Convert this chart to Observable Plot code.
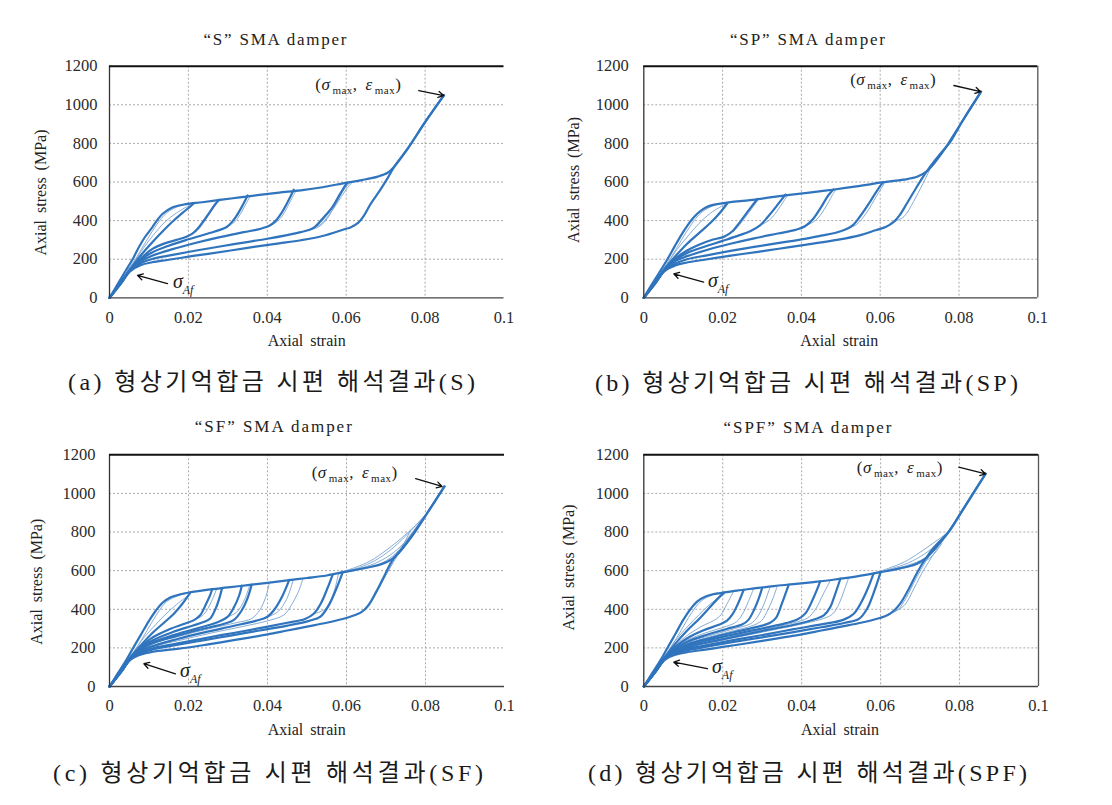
<!DOCTYPE html>
<html><head><meta charset="utf-8">
<script src="https://cdn.jsdelivr.net/npm/d3@7"></script>
<script src="https://cdn.jsdelivr.net/npm/@observablehq/plot@0.6"></script>
<style>
body{margin:0;background:#fff;}
#wrap{position:relative;width:1112px;height:805px;overflow:hidden;background:#fff;}
#wrap svg{position:absolute;}
</style></head><body><div id="wrap"></div>
<script>
// ---------- ticks ----------
const strainTicks = [0, 0.02, 0.04, 0.06, 0.08, 0.1];
const stressTicks = [0, 200, 400, 600, 800, 1000, 1200];
const titles = ["“S” SMA damper", "“SP” SMA damper", "“SF” SMA damper", "“SPF” SMA damper"];
const captions = ["(a) 형상기억합금 시편 해석결과(S)", "(b) 형상기억합금 시편 해석결과(SP)", "(c) 형상기억합금 시편 해석결과(SF)", "(d) 형상기억합금 시편 해석결과(SPF)"];
const xLabel = "Axial strain";
const yLabel = "Axial stress (MPa)";

// ---------- (a) S ----------
const envS = [[0,0],[0.002,68],[0.0041,140],[0.006,205],[0.0074,261],[0.009,315],[0.0108,364],[0.0122,405],[0.0134,434],[0.0159,468],[0.0193,485],[0.0235,495],[0.028,507],[0.033,520],[0.038,533],[0.043,545],[0.0485,557],[0.054,573],[0.0595,594],[0.064,610],[0.068,628],[0.0705,648],[0.0722,680],[0.0755,770],[0.08,910],[0.0848,1050]];
const loopsS = [
 [[0,0],[0.003,85],[0.0052,148],[0.008,222],[0.0108,287],[0.0135,345],[0.016,395],[0.0185,440],[0.0203,470],[0.0214,490]],
 [[0,0],[0.003,82],[0.0052,145],[0.008,205],[0.0108,252],[0.014,282],[0.017,300],[0.0195,316],[0.021,332],[0.0225,362],[0.024,402],[0.0255,447],[0.0268,485],[0.0278,508]],
 [[0,0],[0.003,80],[0.0052,143],[0.008,198],[0.0108,235],[0.015,270],[0.02,303],[0.025,333],[0.028,352],[0.0298,368],[0.031,392],[0.0322,425],[0.0335,470],[0.0344,505],[0.035,530]],
 [[0,0],[0.003,80],[0.0052,142],[0.008,190],[0.0108,218],[0.016,252],[0.022,285],[0.028,314],[0.034,340],[0.038,356],[0.0405,373],[0.042,396],[0.0435,436],[0.045,490],[0.046,530],[0.0467,560]],
 [[0,0],[0.003,78],[0.0052,140],[0.008,180],[0.0108,201],[0.016,222],[0.022,245],[0.028,266],[0.034,286],[0.04,306],[0.045,325],[0.0485,340],[0.0505,351],[0.052,366],[0.054,410],[0.0565,470],[0.0585,540],[0.0597,580],[0.0603,597]],
 [[0,0],[0.003,76],[0.0052,137],[0.008,170],[0.0108,184],[0.015,197],[0.02,213],[0.025,228],[0.0307,245],[0.037,265],[0.043,282],[0.0485,298],[0.054,320],[0.0595,355],[0.0612,366],[0.063,388],[0.0645,426],[0.0662,487],[0.0685,555],[0.0705,620],[0.0722,680],[0.0755,770],[0.08,910],[0.0848,1050]]
];
const thinS = [
 [[0.0052,148],[0.008,240],[0.011,322],[0.014,392],[0.017,440],[0.0205,482]],
 [[0.0045,140],[0.007,215],[0.0095,300],[0.012,380],[0.0145,440],[0.018,478],[0.021,490]],
 [[0.0195,318],[0.0222,348],[0.0242,400],[0.026,455],[0.0272,490],[0.0283,510]],
 [[0.0298,368],[0.0318,395],[0.0335,445],[0.0348,495],[0.0358,530]],
 [[0.0405,373],[0.0428,400],[0.0447,455],[0.0462,515],[0.0475,560]],
 [[0.0495,346],[0.0525,372],[0.0552,430],[0.058,515],[0.0598,570],[0.061,598]],
 [[0.0505,351],[0.0535,380],[0.0562,445],[0.0588,525],[0.0605,575],[0.0616,600]],
 [[0.0505,351],[0.0528,365],[0.0548,400],[0.0572,480],[0.0592,555],[0.0604,598]]
];

// ---------- (b) SP ----------
const envSP = [[0,0],[0.002,68],[0.0042,140],[0.006,200],[0.0078,265],[0.0095,325],[0.0112,378],[0.0128,420],[0.0145,452],[0.0165,475],[0.019,487],[0.022,496],[0.027,506],[0.032,520],[0.037,533],[0.042,545],[0.048,560],[0.054,577],[0.0605,598],[0.066,612],[0.0695,628],[0.0718,655],[0.074,705],[0.077,790],[0.081,920],[0.0856,1068]];
const loopsSP = [
 [[0,0],[0.003,85],[0.0052,148],[0.008,215],[0.011,280],[0.014,335],[0.017,390],[0.0195,445],[0.0212,490]],
 [[0,0],[0.003,82],[0.0052,145],[0.008,203],[0.011,245],[0.014,275],[0.017,298],[0.0205,318],[0.0225,345],[0.0245,395],[0.0265,450],[0.028,490],[0.0288,512]],
 [[0,0],[0.003,80],[0.0052,143],[0.008,196],[0.011,232],[0.015,262],[0.02,295],[0.024,322],[0.027,345],[0.0295,375],[0.0315,420],[0.0335,470],[0.035,510],[0.036,535]],
 [[0,0],[0.003,80],[0.0052,142],[0.008,190],[0.011,216],[0.016,248],[0.022,280],[0.028,308],[0.034,333],[0.0385,352],[0.041,372],[0.043,410],[0.045,470],[0.0468,530],[0.0482,562]],
 [[0,0],[0.003,78],[0.0052,140],[0.008,178],[0.011,200],[0.016,220],[0.022,243],[0.028,264],[0.034,283],[0.04,303],[0.045,322],[0.0485,336],[0.051,352],[0.053,375],[0.055,425],[0.0575,500],[0.0595,565],[0.0607,598]],
 [[0,0],[0.003,76],[0.0052,137],[0.008,168],[0.011,183],[0.015,196],[0.02,212],[0.025,227],[0.031,244],[0.037,263],[0.043,281],[0.049,300],[0.055,325],[0.0588,350],[0.0615,368],[0.0635,395],[0.065,430],[0.0668,490],[0.069,565],[0.071,630],[0.0725,675],[0.075,740],[0.078,815],[0.081,920],[0.0856,1068]]
];
const thinSP = [
 [[0.0052,148],[0.008,238],[0.011,315],[0.014,385],[0.017,440],[0.0205,483]],
 [[0.0045,140],[0.007,212],[0.0095,298],[0.012,378],[0.0145,440],[0.018,480],[0.021,492]],
 [[0.0205,320],[0.023,350],[0.0255,410],[0.0275,465],[0.0292,512]],
 [[0.0295,375],[0.032,405],[0.0342,460],[0.0358,510],[0.0367,535]],
 [[0.041,372],[0.0438,405],[0.046,465],[0.0478,530],[0.0488,562]],
 [[0.051,352],[0.054,380],[0.0565,440],[0.059,525],[0.0612,598]],
 [[0.0635,395],[0.066,420],[0.0685,500],[0.0708,590],[0.0725,660]]
];

// ---------- (c) SF ----------
const envSF = [[0,0],[0.002,65],[0.0042,135],[0.006,200],[0.008,270],[0.010,340],[0.0118,395],[0.0135,435],[0.0155,462],[0.018,478],[0.021,490],[0.025,502],[0.03,513],[0.035,525],[0.04,537],[0.045,550],[0.05,562],[0.055,575],[0.06,595],[0.065,615],[0.069,635],[0.0715,660],[0.074,710],[0.077,790],[0.0805,900],[0.0848,1036]];
const loopsSF = [
 [[0,0],[0.003,85],[0.0052,148],[0.008,215],[0.011,280],[0.0138,330],[0.0163,377],[0.0185,430],[0.0205,488]],
 [[0,0],[0.003,82],[0.0052,146],[0.008,205],[0.011,255],[0.015,295],[0.019,325],[0.0215,345],[0.023,370],[0.0245,430],[0.0255,475],[0.026,505]],
 [[0,0],[0.003,81],[0.0052,144],[0.008,200],[0.011,240],[0.016,282],[0.021,315],[0.024,335],[0.0255,352],[0.027,410],[0.028,470],[0.0285,510]],
 [[0,0],[0.003,80],[0.0052,143],[0.008,195],[0.011,230],[0.016,265],[0.022,300],[0.027,330],[0.0298,359],[0.0315,410],[0.0328,470],[0.0335,522]],
 [[0,0],[0.003,80],[0.0052,142],[0.008,192],[0.011,225],[0.017,262],[0.023,295],[0.029,325],[0.0315,345],[0.0335,395],[0.035,460],[0.036,528]],
 [[0,0],[0.003,79],[0.0052,141],[0.008,185],[0.011,210],[0.017,245],[0.024,280],[0.031,312],[0.037,340],[0.0399,360],[0.0418,400],[0.0438,470],[0.0455,552]],
 [[0,0],[0.003,78],[0.0052,140],[0.008,178],[0.011,198],[0.017,222],[0.024,250],[0.031,276],[0.038,302],[0.045,330],[0.0495,350],[0.0517,377],[0.0535,430],[0.0552,510],[0.0565,580]],
 [[0,0],[0.003,78],[0.0052,139],[0.008,174],[0.011,192],[0.017,215],[0.024,240],[0.031,265],[0.038,290],[0.045,315],[0.0505,340],[0.0534,362],[0.0555,420],[0.0575,510],[0.059,590]],
 [[0,0],[0.003,76],[0.0052,137],[0.008,166],[0.011,180],[0.016,192],[0.02,202],[0.025,218],[0.03,235],[0.035,252],[0.04,270],[0.045,290],[0.05,310],[0.055,330],[0.0595,352],[0.0618,368],[0.0638,385],[0.0655,420],[0.0675,490],[0.0695,570],[0.0715,650],[0.0735,700],[0.0765,780],[0.0805,900],[0.0848,1036]]
];
const thinSF = [
 [[0.0052,142],[0.011,220],[0.018,262],[0.025,298],[0.032,330],[0.036,352],[0.038,395],[0.0395,460],[0.0405,540]],
 [[0.0052,140],[0.011,205],[0.018,240],[0.026,278],[0.034,312],[0.04,340],[0.0441,370],[0.046,420],[0.0478,490],[0.049,560]],
 [[0.0052,148],[0.008,235],[0.011,305],[0.014,370],[0.017,425],[0.0205,480]],
 [[0.0045,138],[0.007,205],[0.0095,290],[0.012,375],[0.0145,440],[0.018,474],[0.021,488]],
 [[0.0215,345],[0.0238,372],[0.0258,440],[0.0272,510]],
 [[0.0298,359],[0.0322,385],[0.0342,450],[0.0355,525]],
 [[0.0399,360],[0.0425,385],[0.0448,450],[0.0465,552]],
 [[0.0517,377],[0.0545,400],[0.0565,470],[0.058,588]],
 [[0.0625,375],[0.0645,395],[0.0665,450],[0.069,540],[0.0712,620],[0.0735,700],[0.0762,808]],
 [[0.063,380],[0.065,400],[0.0672,470],[0.0695,560],[0.0718,650],[0.073,700]],
 [[0.058,590],[0.062,615],[0.066,650],[0.07,705],[0.074,770],[0.0775,835],[0.0805,900]],
 [[0.058,590],[0.063,615],[0.067,650],[0.071,705],[0.075,780],[0.078,845],[0.0805,900]],
 [[0.059,592],[0.064,615],[0.068,645],[0.072,695],[0.0755,765],[0.0785,850],[0.0805,900]],
 [[0.06,595],[0.065,612],[0.069,640],[0.0725,690],[0.076,780],[0.079,860]]
];

// ---------- (d) SPF ----------
const envSPF = [[0,0],[0.002,65],[0.0042,135],[0.006,200],[0.008,272],[0.010,345],[0.0118,400],[0.0135,440],[0.0155,465],[0.0175,478],[0.0194,484],[0.0236,497],[0.028,508],[0.033,520],[0.038,530],[0.043,541],[0.048,553],[0.054,570],[0.06,592],[0.065,612],[0.069,635],[0.0715,665],[0.074,720],[0.0772,800],[0.081,920],[0.0866,1102]];
const loopsSPF = [
 [[0,0],[0.003,85],[0.0052,148],[0.008,222],[0.011,290],[0.014,350],[0.0165,405],[0.0185,450],[0.0203,486]],
 [[0,0],[0.003,82],[0.0052,145],[0.008,205],[0.011,250],[0.015,290],[0.019,320],[0.021,340],[0.0225,375],[0.024,435],[0.0253,500]],
 [[0,0],[0.003,81],[0.0052,143],[0.008,196],[0.011,232],[0.016,268],[0.021,298],[0.025,322],[0.0265,345],[0.028,400],[0.0292,460],[0.030,512]],
 [[0,0],[0.003,80],[0.0052,142],[0.008,188],[0.011,218],[0.017,252],[0.023,282],[0.029,310],[0.032,330],[0.0335,355],[0.035,430],[0.0367,526]],
 [[0,0],[0.003,79],[0.0052,141],[0.008,184],[0.011,210],[0.017,243],[0.024,275],[0.031,305],[0.036,328],[0.039,348],[0.041,380],[0.043,460],[0.0447,545]],
 [[0,0],[0.003,79],[0.0052,140],[0.008,180],[0.011,202],[0.017,232],[0.024,262],[0.031,292],[0.038,320],[0.0435,350],[0.0456,368],[0.0472,410],[0.0485,480],[0.0498,558]],
 [[0,0],[0.003,78],[0.0052,139],[0.008,175],[0.011,194],[0.017,218],[0.024,245],[0.031,270],[0.038,297],[0.045,322],[0.0505,345],[0.0532,377],[0.0552,440],[0.0568,510],[0.0582,585]],
 [[0,0],[0.003,78],[0.0052,138],[0.008,171],[0.011,188],[0.017,210],[0.024,235],[0.031,258],[0.038,282],[0.045,307],[0.051,330],[0.0545,350],[0.0565,400],[0.0585,500],[0.06,592]],
 [[0,0],[0.003,76],[0.0052,137],[0.008,165],[0.011,178],[0.016,192],[0.02,205],[0.025,220],[0.03,236],[0.035,253],[0.04,270],[0.045,290],[0.05,310],[0.055,330],[0.0598,355],[0.0618,370],[0.0635,395],[0.065,430],[0.067,500],[0.069,580],[0.071,650],[0.0735,720],[0.0772,800],[0.081,922],[0.0866,1102]]
];
const thinSPF = [
 [[0.0052,146],[0.008,212],[0.011,265],[0.015,315],[0.018,345],[0.0195,370],[0.021,425],[0.0228,494]],
 [[0.0052,144],[0.008,200],[0.011,240],[0.016,280],[0.021,312],[0.0235,335],[0.025,375],[0.0265,440],[0.0278,506]],
 [[0.0052,143],[0.008,193],[0.011,227],[0.017,265],[0.023,300],[0.027,325],[0.0288,360],[0.0305,430],[0.032,516]],
 [[0.0052,142],[0.008,190],[0.011,222],[0.017,258],[0.023,290],[0.0275,315],[0.0298,340],[0.0315,400],[0.0328,460],[0.0338,520]],
 [[0.0052,141],[0.011,206],[0.018,240],[0.025,272],[0.032,302],[0.038,330],[0.0415,355],[0.0435,400],[0.0455,480],[0.0473,550]],
 [[0.0052,140],[0.011,200],[0.018,232],[0.026,265],[0.034,298],[0.041,328],[0.0455,352],[0.0478,375],[0.0495,430],[0.0508,500],[0.0519,563]],
 [[0.0052,148],[0.008,238],[0.011,308],[0.014,372],[0.017,430],[0.0205,480]],
 [[0.0045,138],[0.007,208],[0.0095,292],[0.012,378],[0.0145,442],[0.0175,474],[0.021,487]],
 [[0.0625,378],[0.0645,400],[0.0665,460],[0.069,560],[0.0715,650],[0.074,730],[0.0772,800]],
 [[0.0632,385],[0.066,420],[0.0685,510],[0.0708,600],[0.0728,665],[0.0745,720]],
 [[0.058,585],[0.062,612],[0.066,645],[0.070,695],[0.0735,745],[0.0772,800]],
 [[0.058,585],[0.063,612],[0.067,640],[0.071,685],[0.0745,740],[0.0772,800]],
 [[0.06,592],[0.064,612],[0.068,635],[0.072,675],[0.075,735],[0.0772,800]],
 [[0.06,592],[0.065,610],[0.069,630],[0.0725,665],[0.0755,740]]
];

// ---------- annotations (data space): label x, label y, arrow x1, y1, x2, y2 ----------
const annMax = [
 [0.0523, 1100, 0.0784, 1074, 0.0847, 1048],
 [0.0525, 1126, 0.0787, 1100, 0.0855, 1068],
 [0.0513, 1102, 0.0775, 1076, 0.0842, 1036],
 [0.0541, 1127, 0.0798, 1136, 0.0866, 1101]
];
const annAf = [
 [0.0162, 74, 0.0147, 74, 0.0071, 116],
 [0.0164, 79, 0.0152, 81, 0.0076, 124],
 [0.018, 72, 0.0167, 66, 0.0087, 118],
 [0.0174, 93, 0.0161, 92, 0.0076, 126]
];

// ---------- layout ----------
const layout = [
 {env: envS, main: loopsS, thin: thinS, left: 0, top: 10, width: 556, height: 390, ml: 109, mr: 52.5, mt: 55.7, mb: 102.7, box: false, pad: 12,
  title: [275, 29, 143], ylab: [40, 182.5], xlab: [306.7, 330.7], cap: [271.5, 371.7, 407]},
 {env: envSP, main: loopsSP, thin: thinSP, left: 556, top: 10, width: 556, height: 390, ml: 87.3, mr: 74.7, mt: 55.7, mb: 102.7, box: true, pad: 15,
  title: [251.5, 29, 155], ylab: [17.3, 170], xlab: [283.2, 330.7], cap: [250.5, 373, 423]},
 {env: envSF, main: loopsSF, thin: thinSF, left: 0, top: 400, width: 556, height: 400, ml: 109, mr: 52, mt: 54.3, mb: 114, box: false, pad: 14,
  title: [273.3, 26.7, 157], ylab: [36.7, 181.7], xlab: [306.7, 329.3], cap: [268, 373, 430]},
 {env: envSPF, main: loopsSPF, thin: thinSPF, left: 556, top: 400, width: 556, height: 400, ml: 87.3, mr: 74, mt: 54.3, mb: 114, box: true, pad: 15,
  title: [251.5, 27.3, 168], ylab: [12.3, 167.5], xlab: [284, 329.3], cap: [251.5, 373, 439]}
];

const serif = "Liberation Serif, Times New Roman, DejaVu Serif, serif";
const mainColor = "#2f74bd";
const thinColor = "#7aa3cf";

function toRows(curves, prefix) {
  return curves.flatMap((c, i) => c.map(([x, y]) => ({id: prefix + i, x, y})));
}

const wrap = document.getElementById("wrap");

layout.forEach((L, k) => {
  const mainRows = toRows([L.env, ...L.main], "m");
  const thinRows = toRows(L.thin, "t");
  const am = annMax[k], af = annAf[k];
  const plot = Plot.plot({
    width: L.width, height: L.height,
    marginLeft: L.ml, marginRight: L.mr, marginTop: L.mt, marginBottom: L.mb,
    style: {fontFamily: serif, fontSize: "16.5px", color: "#2a2a2a", background: "transparent", overflow: "visible"},
    x: {domain: [0, 0.1], ticks: strainTicks, tickFormat: d => d === 0 ? "0" : String(d), tickSize: 0, tickPadding: 13, label: null},
    y: {domain: [0, 1200], ticks: stressTicks, tickFormat: d => String(d), tickSize: 0, tickPadding: L.pad, label: null},
    marks: [
      Plot.gridX(strainTicks.filter(d => d > 0 && d < 0.1), {stroke: "#a8a8a8", strokeOpacity: 1, strokeDasharray: "2,2"}),
      Plot.gridY(stressTicks.filter(d => d > 0 && d < 1200), {stroke: "#a8a8a8", strokeOpacity: 1, strokeDasharray: "2,2"}),
      Plot.line(thinRows, {x: "x", y: "y", z: "id", curve: "catmull-rom", stroke: thinColor, strokeWidth: 1, strokeOpacity: 0.9}),
      Plot.line(mainRows, {x: "x", y: "y", z: "id", curve: "catmull-rom", stroke: mainColor, strokeWidth: 2.2}),
      Plot.ruleX([0], {stroke: "#333", strokeWidth: 1.3}),
      Plot.ruleY([0], {stroke: "#444", strokeWidth: 1.3}),
      Plot.ruleY([1200], {stroke: "#111", strokeWidth: 2}),
      L.box ? Plot.ruleX([0.1], {stroke: "#555", strokeWidth: 1.3}) : null,
      Plot.arrow([am], {x1: d => d[2], y1: d => d[3], x2: d => d[4], y2: d => d[5], stroke: "#111", strokeWidth: 1.3, headLength: 7, bend: 0}),
      Plot.arrow([af], {x1: d => d[2], y1: d => d[3], x2: d => d[4], y2: d => d[5], stroke: "#111", strokeWidth: 1.3, headLength: 7, bend: 0})
    ]
  });
  plot.style.left = L.left + "px";
  plot.style.top = L.top + "px";
  wrap.appendChild(plot);

  const sx = plot.scale("x"), sy = plot.scale("y");
  const svg = d3.select(plot);

  // title
  svg.append("text").attr("x", L.title[0]).attr("y", L.title[1]).attr("text-anchor", "middle")
    .attr("dominant-baseline", "central").attr("font-family", serif).attr("font-size", 17).attr("fill", "#222")
    .attr("textLength", L.title[2]).attr("lengthAdjust", "spacing").text(titles[k]);
  // axis labels
  svg.append("text").attr("x", L.xlab[0]).attr("y", L.xlab[1]).attr("text-anchor", "middle")
    .attr("dominant-baseline", "central").attr("font-family", serif).attr("font-size", 16).attr("fill", "#222")
    .attr("word-spacing", 3).text(xLabel);
  svg.append("text").attr("transform", `translate(${L.ylab[0]},${L.ylab[1]}) rotate(-90)`).attr("text-anchor", "middle")
    .attr("dominant-baseline", "central").attr("font-family", serif).attr("font-size", 16).attr("fill", "#222")
    .attr("word-spacing", 3).text(yLabel);
  // caption
  svg.append("text").attr("x", L.cap[0]).attr("y", L.cap[1]).attr("text-anchor", "middle")
    .attr("dominant-baseline", "central").attr("font-family", "Liberation Serif, Noto Sans CJK KR, serif")
    .attr("font-size", 24).attr("fill", "#1a1a1a")
    .attr("textLength", L.cap[2]).attr("lengthAdjust", "spacing").text(captions[k]);

  // (σmax, εmax)
  const tm = svg.append("text").attr("x", sx.apply(am[0])).attr("y", sy.apply(am[1]) + 5).attr("text-anchor", "start")
    .attr("font-family", serif).attr("font-size", 17).attr("fill", "#222").attr("letter-spacing", 0.5);
  tm.append("tspan").text("(");
  tm.append("tspan").attr("font-style", "italic").text("σ");
  tm.append("tspan").attr("font-size", 11).attr("dx", 2).attr("dy", 4).text("max");
  tm.append("tspan").attr("dy", -4).text(",");
  tm.append("tspan").attr("font-style", "italic").attr("dx", 8).text("ε");
  tm.append("tspan").attr("font-size", 11).attr("dx", 2).attr("dy", 4).text("max");
  tm.append("tspan").attr("dy", -4).text(")");

  // σAf
  const ta = svg.append("text").attr("x", sx.apply(af[0])).attr("y", sy.apply(af[1]) + 5).attr("text-anchor", "start")
    .attr("font-family", serif).attr("font-size", 20).attr("fill", "#222");
  ta.append("tspan").attr("font-style", "italic").text("σ");
  ta.append("tspan").attr("font-size", 12).attr("font-style", "italic").attr("dy", 6).text("Af");
});
</script></body></html>
